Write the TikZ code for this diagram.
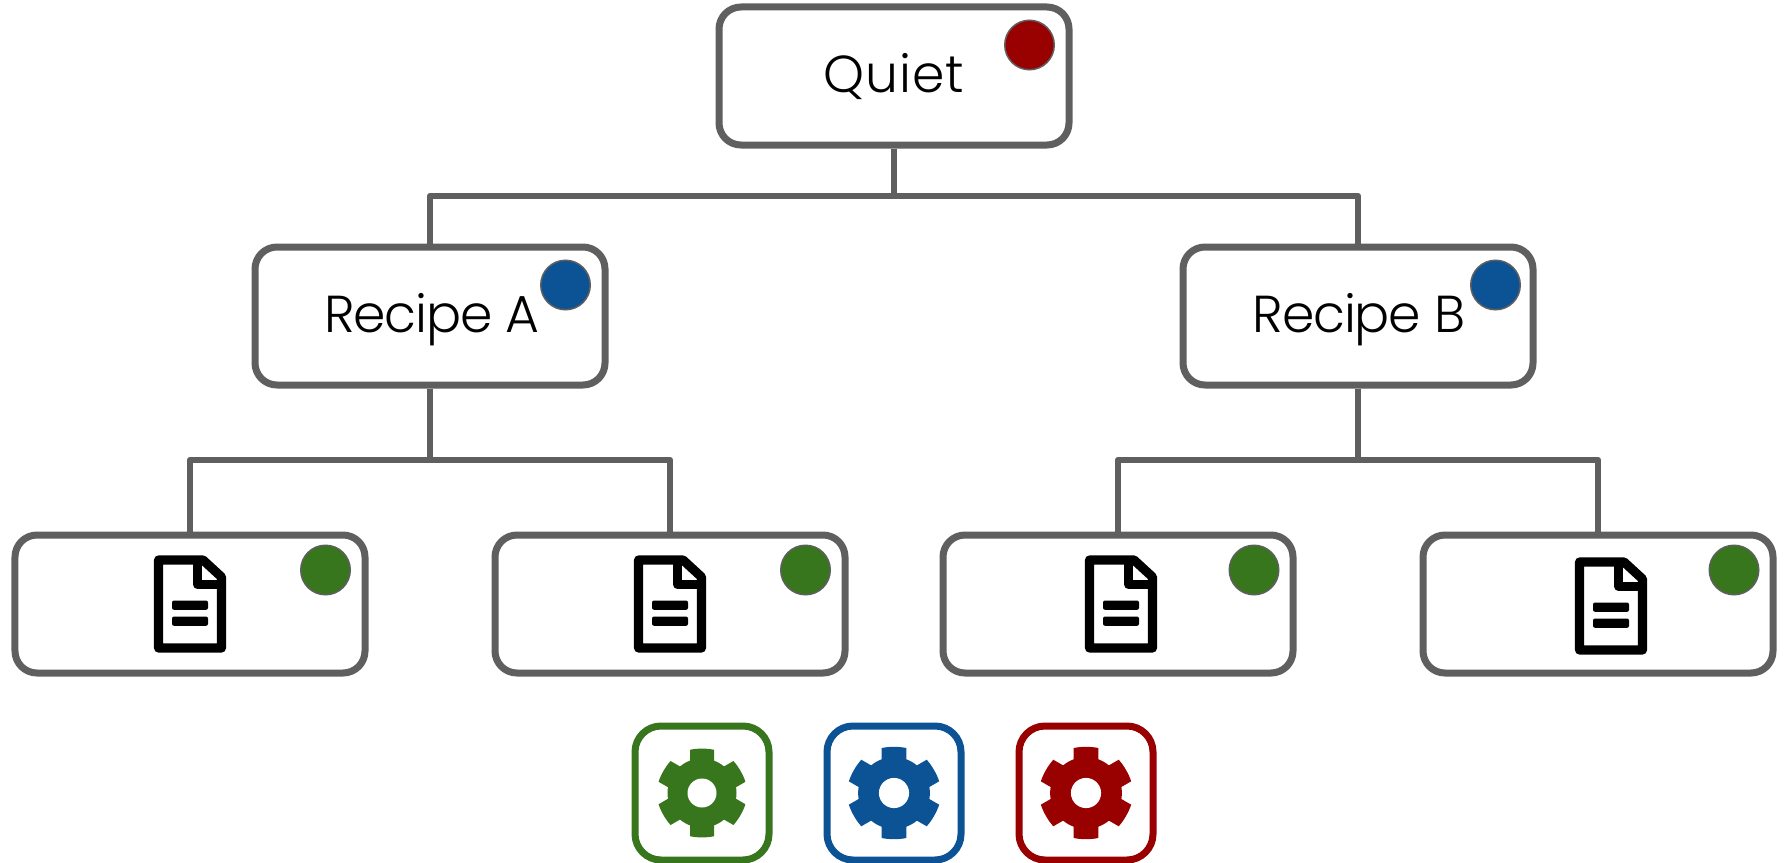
\documentclass[tikz,border=0pt]{standalone}
\usepackage{fontspec}
\setmainfont{Poppins Light}
\definecolor{edgegray}{HTML}{5F5F5F}
\definecolor{gearred}{HTML}{990000}
\definecolor{gearblue}{HTML}{0B5394}
\definecolor{geargreen}{HTML}{38761D}
\tikzset{
  x=1bp,y=-1bp,
  boxnode/.style={draw=edgegray,line width=7bp,rounded corners=22bp,fill=white,minimum width=350bp,minimum height=138bp,inner sep=0pt,font=\fontsize{52bp}{60bp}\selectfont,text=black},
  dotnode/.style={circle,draw=edgegray,line width=1.5bp,minimum size=49.5bp,inner sep=0pt},
  bus/.style={draw=edgegray,line width=6.5bp,line join=round},
  gearbox/.style={draw=#1,line width=7bp,rounded corners=26bp,fill=white,minimum width=134bp,minimum height=134bp,inner sep=0pt},
  docicon/.pic={
    \draw[black,line width=9.2bp,line join=round,fill=white]
      (-31.5,-44) -- (13,-44) -- (31.5,-27) -- (31.5,44) -- (-31.5,44) -- cycle;
    \draw[black,line width=9.2bp,line join=round] (7.7,-44) -- (7.7,-19.5) -- (31.5,-19.5);
    \fill[black,rounded corners=2bp] (-18,-3.5) rectangle (18,5.8);
    \fill[black,rounded corners=2bp] (-18,12.5) rectangle (18,21.8);
  },
  gearicon/.pic={
    \fill[pic actions] (0,0) circle (34.5);
    \foreach \a in {30,90,150,210,270,330}{
      \fill[pic actions,rotate=\a] (27,-12) -- (43.2,-12) .. controls (44.8,-5) and (44.8,5) .. (43.2,12) -- (27,12) -- cycle;
    }
    \fill[white] (0,0) circle (14.5);
  }
}
\begin{document}
\begin{tikzpicture}
\useasboundingbox (0,0) rectangle (1787,863);
\node[boxnode,text height=33.4bp,text depth=0pt] (quiet) at (894,76) {\addfontfeature{LetterSpace=1.7}Quiet};
\node[boxnode,text height=32bp,text depth=0pt] (ra) at (430,316) {\hspace*{4bp}\addfontfeature{LetterSpace=-2.2}Recipe A};
\node[boxnode,text height=32bp,text depth=0pt] (rb) at (1358,316) {\hspace*{2bp}\addfontfeature{LetterSpace=-2.2}Recipe B};
\node[boxnode] (l1) at (190,604) {};
\node[boxnode] (l2) at (670,604) {};
\node[boxnode] (l3) at (1118,604) {};
\node[boxnode] (l4) at (1598,604) {};
\coordinate (b0) at (894,196);
\coordinate (b1) at (430,196);
\coordinate (b2) at (1358,196);
\coordinate (b3) at (430,460);
\coordinate (b4) at (1358,460);
\coordinate (b5) at (190,460);
\coordinate (b6) at (670,460);
\coordinate (b7) at (1118,460);
\coordinate (b8) at (1598,460);
\draw[bus] (quiet.south) -- (b0);
\draw[bus] (ra.north) -- (b1) -- (b2) -- (rb.north);
\draw[bus] (ra.south) -- (b3);
\draw[bus] (rb.south) -- (b4);
\draw[bus] (l1.north) -- (b5) -- (b6) -- (l2.north);
\draw[bus] (l3.north) -- (b7) -- (b8) -- (l4.north);
\node[dotnode,fill=gearred] (d0) at (1029.5,45) {};
\node[dotnode,fill=gearblue] (d1) at (565.5,285) {};
\node[dotnode,fill=gearblue] (d2) at (1495.5,285) {};
\node[dotnode,fill=geargreen] (d3) at (325.5,570) {};
\node[dotnode,fill=geargreen] (d4) at (805.5,570) {};
\node[dotnode,fill=geargreen] (d5) at (1254,570) {};
\node[dotnode,fill=geargreen] (d6) at (1734,570) {};
\pic at (190,604) {docicon};
\pic at (670,604) {docicon};
\pic at (1121,604) {docicon};
\pic at (1611,606) {docicon};
\node[gearbox=geargreen] (g1) at (702,793) {};
\node[gearbox=gearblue] (g2) at (894,793) {};
\node[gearbox=gearred] (g3) at (1086,793) {};
\pic[fill=geargreen] at (702,793) {gearicon};
\pic[fill=gearblue,scale=1.04] at (894,793) {gearicon};
\pic[fill=gearred,scale=1.04] at (1086,793) {gearicon};
\end{tikzpicture}
\end{document}
